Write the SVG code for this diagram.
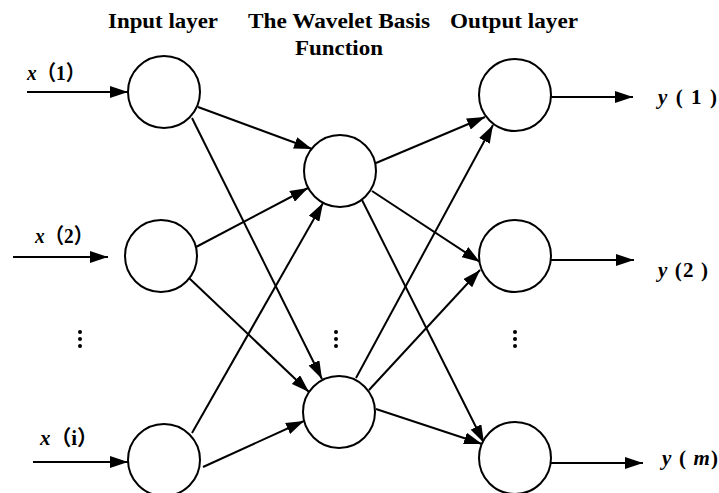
<svg xmlns="http://www.w3.org/2000/svg" width="719" height="493" viewBox="0 0 719 493">
<style>
.node{fill:#fff;stroke:#000;stroke-width:2}
.edge{stroke:#000;stroke-width:2;fill:none;marker-end:url(#ah)}
.hdr{font-family:"Liberation Serif","Times New Roman",serif;font-weight:bold;font-size:22px;fill:#000}
.lbl{font-family:"Liberation Serif","Noto Sans CJK SC",serif;font-weight:bold;font-size:21px;fill:#000}
.it{font-style:italic}
.dot{fill:#000}
</style>
<defs>
<marker id="ah" markerUnits="userSpaceOnUse" markerWidth="20" markerHeight="12" refX="18" refY="6" orient="auto">
<path d="M0,0 L18,6 L0,12 z" fill="#000"/>
</marker>
</defs>
<rect width="719" height="493" fill="#fff"/>
<g id="headers">
<text class="hdr" x="108" y="28" textLength="110" lengthAdjust="spacingAndGlyphs">Input layer</text>
<text class="hdr" x="248" y="28" textLength="182" lengthAdjust="spacingAndGlyphs">The Wavelet Basis</text>
<text class="hdr" x="295" y="55" textLength="88" lengthAdjust="spacingAndGlyphs">Function</text>
<text class="hdr" x="450" y="28" textLength="128" lengthAdjust="spacingAndGlyphs">Output layer</text>
</g>
<g id="connectors">
<line class="edge" x1="27" y1="92" x2="128" y2="92"/>
<line class="edge" x1="13" y1="257" x2="108" y2="257"/>
<line class="edge" x1="33" y1="462" x2="128" y2="462"/>
<line class="edge" x1="198" y1="107" x2="312" y2="149"/>
<line class="edge" x1="192" y1="118" x2="322" y2="379"/>
<line class="edge" x1="196" y1="247" x2="308" y2="188"/>
<line class="edge" x1="189" y1="278" x2="309" y2="392"/>
<line class="edge" x1="192" y1="433" x2="323" y2="203"/>
<line class="edge" x1="203" y1="467" x2="304" y2="421"/>
<line class="edge" x1="376" y1="163" x2="485" y2="117"/>
<line class="edge" x1="372" y1="191" x2="480" y2="262"/>
<line class="edge" x1="362" y1="200" x2="484" y2="443"/>
<line class="edge" x1="356" y1="378" x2="493" y2="125"/>
<line class="edge" x1="369" y1="390" x2="480" y2="270"/>
<line class="edge" x1="376" y1="409" x2="482" y2="444"/>
<line class="edge" x1="551" y1="97" x2="633" y2="97"/>
<line class="edge" x1="551" y1="260" x2="634" y2="260"/>
<line class="edge" x1="551" y1="463" x2="643" y2="463"/>
</g>
<g id="in1"><circle class="node" cx="164" cy="92" r="36"/><text class="lbl" x="27" y="80" textLength="58" lengthAdjust="spacingAndGlyphs"><tspan class="it">x</tspan>（1）</text></g>
<g id="in2"><circle class="node" cx="161" cy="256" r="36"/><text class="lbl" x="35" y="243" textLength="58" lengthAdjust="spacingAndGlyphs"><tspan class="it">x</tspan>（2）</text></g>
<g id="in3"><circle class="node" cx="164" cy="460" r="36"/><text class="lbl" x="40" y="445" textLength="58" lengthAdjust="spacingAndGlyphs"><tspan class="it">x</tspan>（i）</text></g>
<g id="hid1"><circle class="node" cx="340" cy="171" r="36"/></g>
<g id="hid2"><circle class="node" cx="339" cy="412" r="36"/></g>
<g id="out1"><circle class="node" cx="515" cy="95" r="36"/><text class="lbl" x="658" y="104" textLength="59" lengthAdjust="spacing"><tspan class="it">y</tspan> ( 1 )</text></g>
<g id="out2"><circle class="node" cx="515" cy="256" r="36"/><text class="lbl" x="658" y="277" textLength="50" lengthAdjust="spacing"><tspan class="it">y</tspan> (2 )</text></g>
<g id="out3"><circle class="node" cx="515" cy="458" r="36"/><text class="lbl" x="662" y="465" textLength="56" lengthAdjust="spacing"><tspan class="it">y</tspan> ( <tspan class="it">m</tspan>)</text></g>
<g id="ellipses">
<circle class="dot" cx="80" cy="332" r="2"/><circle class="dot" cx="80" cy="339" r="2"/><circle class="dot" cx="80" cy="346" r="2"/>
<circle class="dot" cx="336" cy="332" r="2"/><circle class="dot" cx="336" cy="339" r="2"/><circle class="dot" cx="336" cy="346" r="2"/>
<circle class="dot" cx="515" cy="332" r="2"/><circle class="dot" cx="515" cy="339" r="2"/><circle class="dot" cx="515" cy="346" r="2"/>
</g>
</svg>
